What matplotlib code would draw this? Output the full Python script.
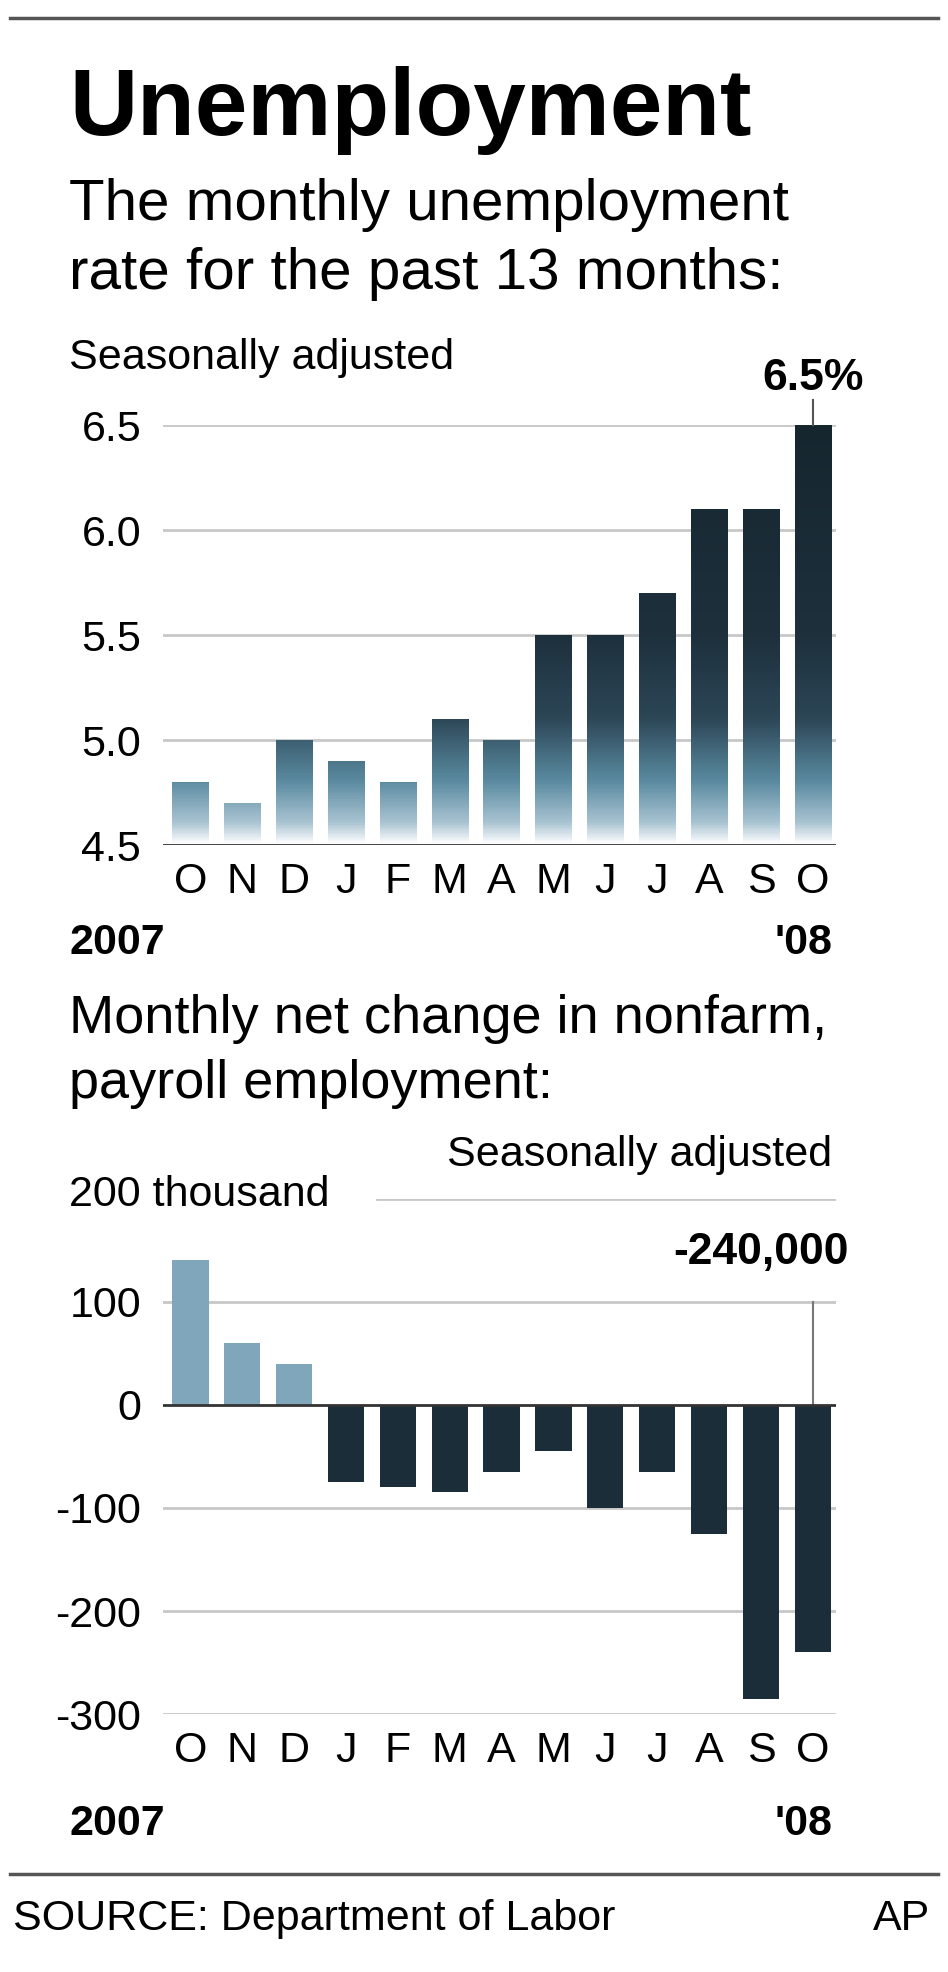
import matplotlib
matplotlib.use("Agg")
import matplotlib.pyplot as plt
import numpy as np
from matplotlib.colors import LinearSegmentedColormap

plt.rcParams['font.family'] = ['Liberation Sans', 'DejaVu Sans']

months = ["O", "N", "D", "J", "F", "M", "A", "M", "J", "J", "A", "S", "O"]
rate = [4.8, 4.7, 5.0, 4.9, 4.8, 5.1, 5.0, 5.5, 5.5, 5.7, 6.1, 6.1, 6.5]
payroll = [140, 60, 40, -75, -80, -85, -65, -45, -100, -65, -125, -285, -240]
rate_ticks = [4.5, 5.0, 5.5, 6.0, 6.5]
pay_ticks = [100, 0, -100, -200, -300]

H = 1568.0
def fy(y): return 1 - y / H
def fx(x): return x / 754.0

fig = plt.figure(figsize=(9.48, 19.72), dpi=100)
fig.patch.set_facecolor("white")
dark = "#1b2d38"
light = "#7fa6ba"
FS = 31

def line(y):
    fig.add_artist(plt.Line2D([fx(8), fx(746)], [fy(y), fy(y)], color="#555", lw=2.5))
line(14)
fig.text(fx(55), fy(88), "Unemployment", fontsize=68, fontweight="bold", va="center")
fig.text(fx(55), fy(163), "The monthly unemployment", fontsize=42, va="center")
fig.text(fx(55), fy(218), "rate for the past 13 months:", fontsize=42, va="center")
fig.text(fx(55), fy(285), "Seasonally adjusted", fontsize=FS, va="center")

x = np.arange(len(months))
ax = fig.add_axes([fx(130), fy(672), fx(535), fy(338) - fy(672)])
cmap = LinearSegmentedColormap.from_list("g", [(0, "#ffffff"), (0.05, "#a9c4d2"), (0.15, "#5a8aa0"),
                                               (0.3, "#2c4656"), (0.5, "#1d303c"), (1, "#16262f")])
grad = np.linspace(0, 1, 400).reshape(-1, 1)
for yv in rate_ticks[1:]:
    ax.axhline(yv, color="#c8c8c8", lw=2, zorder=0)
bars = ax.bar(x, [r - 4.5 for r in rate], bottom=4.5, width=0.7, color="none")
for b in bars:
    im = ax.imshow(grad, extent=[-0.52, 12.45, 4.5, 6.5], origin="lower", cmap=cmap, aspect="auto", zorder=2)
    im.set_clip_path(b)
ax.set_xlim(-0.52, 12.45); ax.set_ylim(4.5, 6.5)
ax.axhline(4.5, color="#333", lw=2, zorder=3)
for s in ax.spines.values(): s.set_visible(False)
ax.set_yticks(rate_ticks)
ax.set_yticklabels([f"{t:.1f}" for t in rate_ticks], fontsize=FS)
ax.tick_params(length=0, pad=16)
ax.set_xticks(x)
ax.set_xticklabels(months, fontsize=FS)
ax.tick_params(axis="x", pad=12)
ax.plot([12, 12], [6.5, 6.62], color="#555", lw=1.5, clip_on=False)
ax.text(12.0, 6.72, "6.5%", fontsize=32, fontweight="bold", ha="center", va="center")
fig.text(fx(55), fy(750), "2007", fontsize=FS, fontweight="bold", va="center")
fig.text(fx(662), fy(750), "'08", fontsize=FS, fontweight="bold", va="center", ha="right")

fig.text(fx(55), fy(810), "Monthly net change in nonfarm,", fontsize=39, va="center")
fig.text(fx(55), fy(862), "payroll employment:", fontsize=39, va="center")
fig.text(fx(662), fy(918), "Seasonally adjusted", fontsize=FS, va="center", ha="right")
fig.text(fx(55), fy(950), "200 thousand", fontsize=FS, va="center")

ax2 = fig.add_axes([fx(130), fy(1363), fx(535), fy(953) - fy(1363)])
ax2.set_xlim(-0.52, 12.45)
ax2.set_ylim(-300, 200)
ax2.plot([3.6, 12.45], [200, 200], color="#c8c8c8", lw=2, zorder=0)
for yv in [100, -100, -200, -300]:
    ax2.axhline(yv, color="#c8c8c8", lw=2, zorder=0)
cols = [light if v > 0 else dark for v in payroll]
ax2.bar(x, payroll, width=0.7, color=cols, zorder=2)
ax2.axhline(0, color="#333", lw=2, zorder=3)
ax2.plot([12, 12], [0, 100], color="#777", lw=1.5, zorder=1)
ax2.text(11.0, 148, "-240,000", fontsize=32, fontweight="bold", ha="center", va="center")
for s in ax2.spines.values(): s.set_visible(False)
ax2.set_yticks(pay_ticks)
ax2.set_yticklabels([str(t) for t in pay_ticks], fontsize=FS)
ax2.tick_params(length=0, pad=16)
ax2.set_xticks(x)
ax2.set_xticklabels(months, fontsize=FS)
ax2.tick_params(axis="x", pad=12)
fig.text(fx(55), fy(1450), "2007", fontsize=FS, fontweight="bold", va="center")
fig.text(fx(662), fy(1450), "'08", fontsize=FS, fontweight="bold", va="center", ha="right")

line(1490)
fig.text(fx(10), fy(1526), "SOURCE: Department of Labor", fontsize=FS, va="center")
fig.text(fx(740), fy(1526), "AP", fontsize=FS, va="center", ha="right")

fig.savefig("out.png", dpi=100, facecolor="white")
